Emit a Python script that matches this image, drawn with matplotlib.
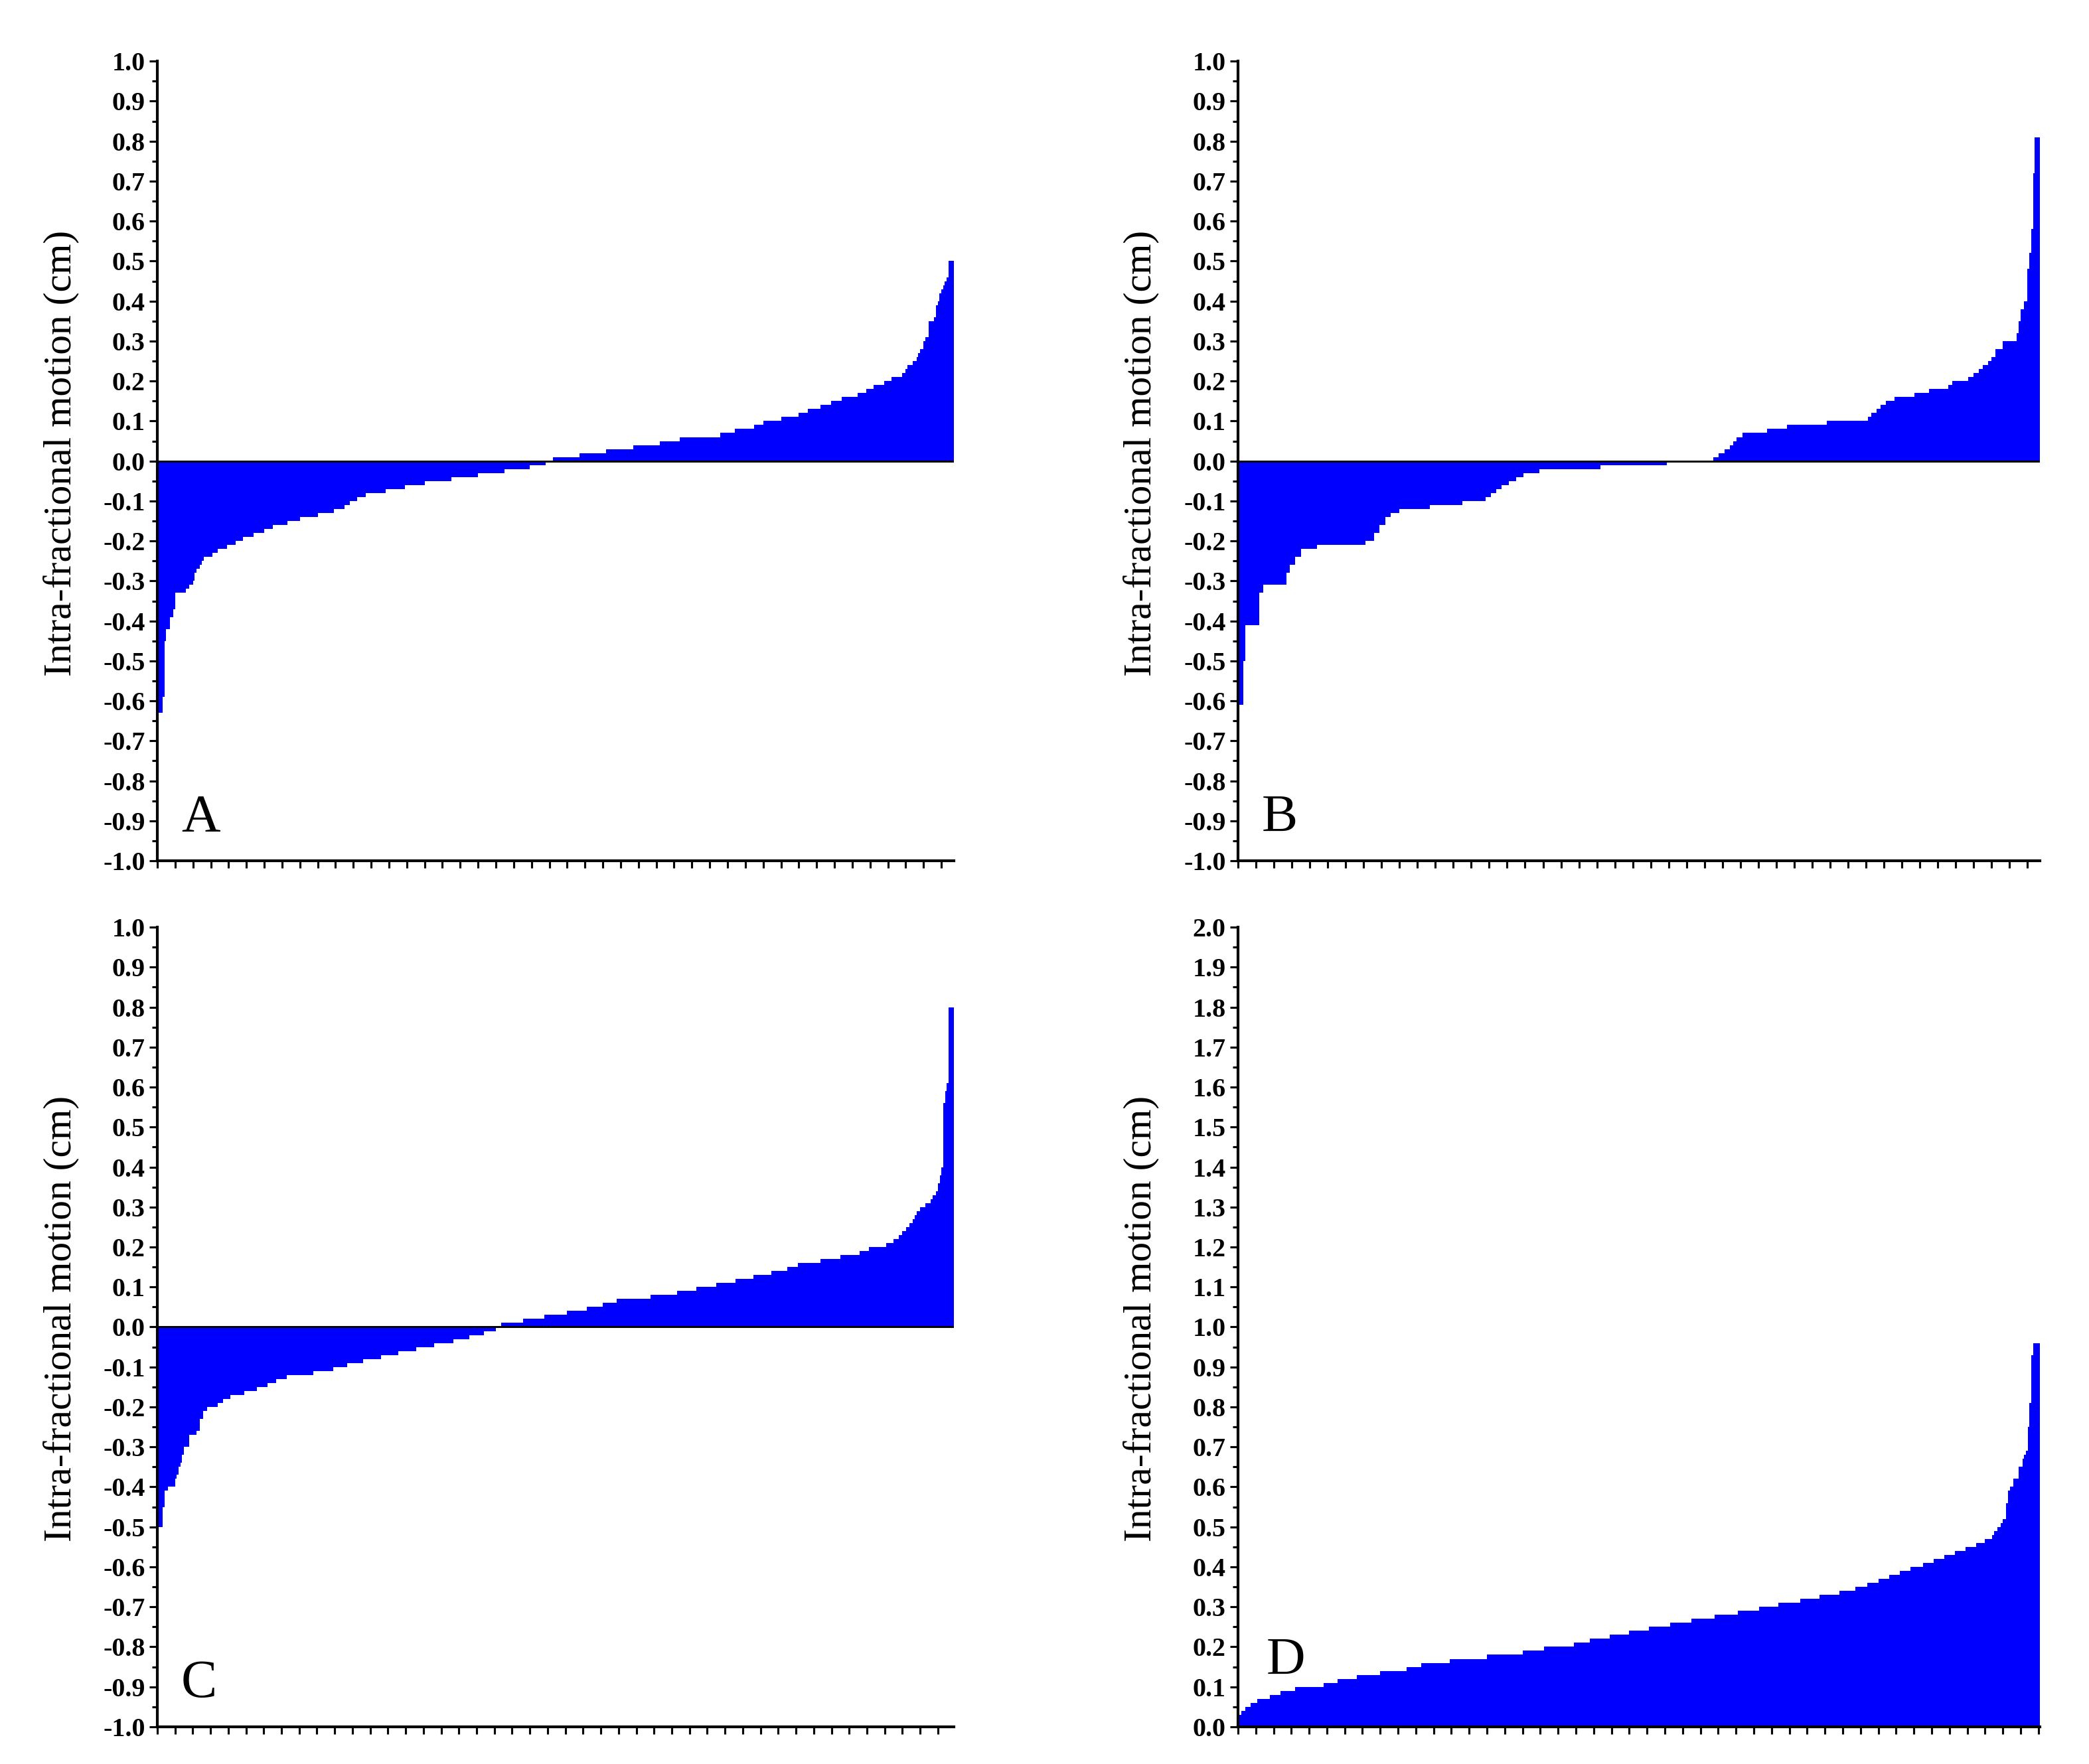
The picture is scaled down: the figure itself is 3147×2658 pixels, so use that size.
import numpy as np
import matplotlib
matplotlib.use("Agg")
import matplotlib.pyplot as plt
from matplotlib.ticker import MultipleLocator, FormatStrFormatter

plt.rcParams['font.family'] = ['Liberation Serif', 'DejaVu Serif']

# sorted intra-fractional motion per fraction, stored as (value, run length)
a_vals = [-0.63, -0.59, -0.45, -0.42, -0.39, -0.37, -0.33, -0.32, -0.31, -0.30, -0.28, -0.27, -0.26, -0.25, -0.24, -0.23,
          -0.22, -0.21, -0.20, -0.19, -0.18, -0.17, -0.16, -0.15, -0.14, -0.13, -0.12, -0.11, -0.10, -0.09, -0.08, -0.07,
          -0.06, -0.05, -0.04, -0.03, -0.02, -0.01, 0.00, 0.01, 0.02, 0.03, 0.04, 0.05, 0.06, 0.07, 0.08, 0.09, 0.10, 0.11,
          0.12, 0.13, 0.14, 0.15, 0.16, 0.17, 0.18, 0.19, 0.20, 0.21, 0.22, 0.23, 0.24, 0.25, 0.26, 0.27, 0.28, 0.30, 0.31,
          0.35, 0.36, 0.39, 0.40, 0.42, 0.43, 0.44, 0.45, 0.46, 0.50]
a_counts = [3, 1, 1, 2, 2, 1, 6, 2, 2, 1, 1, 2, 1, 1, 5, 3,
            5, 5, 4, 6, 6, 5, 8, 7, 10, 9, 6, 3, 4, 5, 11, 11,
            11, 15, 15, 15, 14, 9, 4, 15, 15, 15, 15, 11, 23, 8, 11, 5, 10, 10,
            5, 7, 6, 6, 9, 5, 4, 6, 4, 6, 2, 1, 3, 2, 1, 1, 2, 1, 2,
            3, 1, 1, 1, 1, 1, 1, 1, 1, 3]

b_vals = [-0.61, -0.50, -0.41, -0.33, -0.31, -0.28, -0.26, -0.24, -0.22, -0.21, -0.20, -0.18, -0.16, -0.14, -0.13,
          -0.12, -0.11, -0.10, -0.09, -0.08, -0.07, -0.06, -0.05, -0.04, -0.03, -0.02, -0.01, 0.00, 0.01, 0.02, 0.03,
          0.04, 0.05, 0.06, 0.07, 0.08, 0.09, 0.10, 0.11, 0.12, 0.13, 0.14, 0.15, 0.16, 0.17, 0.18, 0.19, 0.20, 0.21,
          0.22, 0.23, 0.24, 0.25, 0.26, 0.28, 0.30, 0.32, 0.35, 0.38, 0.40, 0.48, 0.52, 0.58, 0.72, 0.81]
b_counts = [3, 1, 8, 2, 13, 2, 3, 3, 9, 27, 5, 3, 3, 3, 5,
            17, 18, 13, 3, 3, 3, 4, 4, 4, 9, 34, 37, 26, 3, 3, 3,
            2, 2, 3, 14, 11, 22, 23, 2, 3, 2, 3, 5, 11, 8, 11, 2, 9, 3,
            3, 2, 3, 2, 2, 4, 8, 1, 1, 2, 2, 1, 1, 1, 1, 3]

c_vals = [-0.50, -0.45, -0.41, -0.40, -0.38, -0.37, -0.35, -0.34, -0.32, -0.30, -0.27, -0.26, -0.23, -0.21, -0.20,
          -0.19, -0.18, -0.17, -0.16, -0.15, -0.14, -0.13, -0.12, -0.11, -0.10, -0.09, -0.08, -0.07, -0.06, -0.05,
          -0.04, -0.03, -0.02, -0.01, 0.00, 0.01, 0.02, 0.03, 0.04, 0.05, 0.06, 0.07, 0.08, 0.09, 0.10, 0.11, 0.12,
          0.13, 0.14, 0.15, 0.16, 0.17, 0.18, 0.19, 0.20, 0.21, 0.22, 0.23, 0.24, 0.25, 0.26, 0.27, 0.28, 0.29, 0.30,
          0.31, 0.32, 0.33, 0.34, 0.36, 0.38, 0.40, 0.56, 0.59, 0.61, 0.80]
c_counts = [3, 1, 2, 4, 1, 1, 1, 1, 1, 3, 4, 2, 2, 2, 6,
            3, 4, 8, 7, 6, 5, 6, 15, 11, 8, 9, 10, 10, 10, 10,
            11, 9, 8, 7, 3, 12, 12, 13, 11, 9, 8, 19, 15, 11, 11, 11, 10,
            10, 9, 6, 13, 11, 11, 5, 10, 4, 3, 2, 2, 2, 2, 1, 1, 2, 3,
            3, 1, 2, 1, 1, 1, 1, 1, 1, 1, 3]

d_vals = [0.03, 0.04, 0.05, 0.06, 0.07, 0.08, 0.09, 0.10, 0.11, 0.12, 0.13, 0.14, 0.15, 0.16, 0.17, 0.18, 0.19, 0.20,
          0.21, 0.22, 0.23, 0.24, 0.25, 0.26, 0.27, 0.28, 0.29, 0.30, 0.31, 0.32, 0.33, 0.34, 0.35, 0.36, 0.37, 0.38,
          0.39, 0.40, 0.41, 0.42, 0.43, 0.44, 0.45, 0.46, 0.47, 0.48, 0.49, 0.50, 0.51, 0.52, 0.56, 0.59, 0.60, 0.62,
          0.65, 0.67, 0.68, 0.69, 0.75, 0.81, 0.93, 0.96]
d_counts = [2, 2, 3, 4, 7, 6, 8, 16, 8, 11, 13, 15, 8, 16, 21, 20, 12, 17,
            9, 11, 11, 11, 12, 12, 13, 13, 12, 11, 12, 11, 11, 9, 7, 6, 6, 6,
            6, 7, 6, 6, 6, 6, 6, 5, 4, 1, 2, 2, 1, 2, 1, 1, 2, 3,
            2, 1, 1, 1, 1, 1, 1, 4]

panels = [
    # (values, counts, letter, ylim, axes rect, letter pos)
    (a_vals, a_counts, 'A', (-1.0, 1.0), [0.0753, 0.5120, 0.3813, 0.4533], (0.03, 0.037)),
    (b_vals, b_counts, 'B', (-1.0, 1.0), [0.5926, 0.5120, 0.3840, 0.4533], (0.03, 0.037)),
    (c_vals, c_counts, 'C', (-1.0, 1.0), [0.0753, 0.0211, 0.3813, 0.4533], (0.03, 0.037)),
    (d_vals, d_counts, 'D', (0.0, 2.0), [0.5926, 0.0211, 0.3840, 0.4533], (0.035, 0.066)),
]

fig = plt.figure(figsize=(3147 / 300, 2658 / 300), dpi=300)

for vals, counts, letter, ylim, rect, lpos in panels:
    ax = fig.add_axes(rect)
    y = np.repeat(vals, counts)
    n = len(y)
    edges = np.arange(n + 1) - 0.5
    ax.stairs(y, edges, baseline=0, fill=True, color='#0000ff', linewidth=0)
    if ylim[0] < 0:
        ax.axhline(0, color='black', linewidth=0.7)

    ax.set_xlim(-0.5, n - 0.5)
    ax.set_ylim(*ylim)
    ax.set_xticks(np.arange(-0.5, n, 10))
    ax.set_xticklabels([])
    ax.yaxis.set_major_locator(MultipleLocator(0.1))
    ax.yaxis.set_minor_locator(MultipleLocator(0.05))
    ax.yaxis.set_major_formatter(FormatStrFormatter('%.1f'))

    for s in ['top', 'right']:
        ax.spines[s].set_visible(False)
    for s in ['left', 'bottom']:
        ax.spines[s].set_linewidth(1.0)

    ax.tick_params(axis='x', direction='out', length=2.6, width=0.75)
    ax.tick_params(axis='y', which='major', direction='out', length=2.9, width=0.75,
                   pad=1.5, labelsize=9.6)
    ax.tick_params(axis='y', which='minor', direction='out', length=1.9, width=0.75)
    for lab in ax.get_yticklabels():
        lab.set_fontweight('bold')

    ax.set_ylabel('Intra-fractional motion (cm)', fontsize=14.3)
    ax.yaxis.set_label_coords(-0.098, 0.51)
    ax.text(lpos[0], lpos[1], letter, transform=ax.transAxes, fontsize=19.5,
            ha='left', va='baseline')

fig.savefig('out.png', dpi=300, facecolor='white')
